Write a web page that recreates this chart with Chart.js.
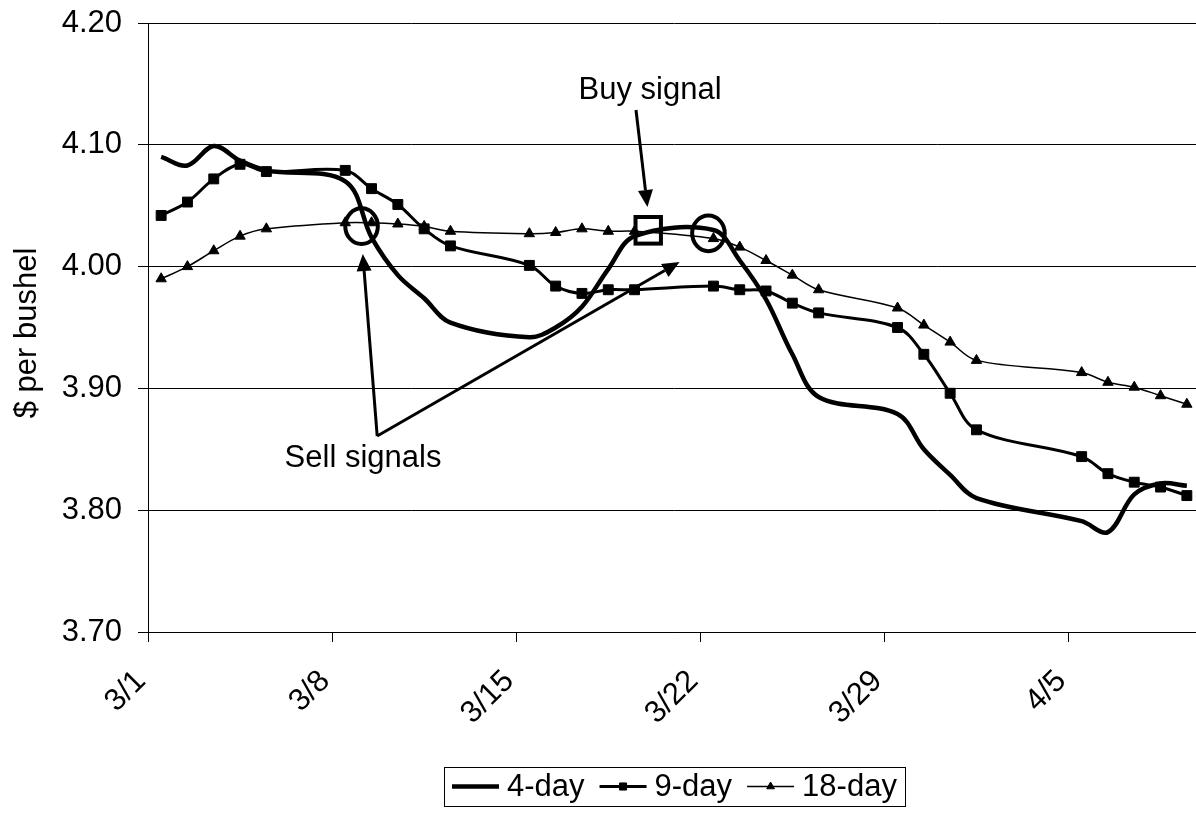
<!DOCTYPE html>
<html>
<head>
<meta charset="utf-8">
<title>Moving averages</title>
<script src="https://cdn.jsdelivr.net/npm/chart.js@4.4.1/dist/chart.umd.min.js"></script>
<style>
  html, body { margin: 0; padding: 0; overflow: hidden; background: #fff; }
  #wrap { width: 1210px; height: 813px; }
</style>
</head>
<body>
<div id="wrap"><canvas id="chart" width="1210" height="813"></canvas></div>
<script>
// Trading days (no weekends, no 4/2 holiday)
const tradingDays = [
  '3/1','3/2','3/3','3/4','3/5',
  '3/8','3/9','3/10','3/11','3/12',
  '3/15','3/16','3/17','3/18','3/19',
  '3/22','3/23','3/24','3/25','3/26',
  '3/29','3/30','3/31','4/1',
  '4/5','4/6','4/7','4/8','4/9'
];

// Moving averages, $ per bushel
const avg4 = [
  4.090, 4.083, 4.099, 4.087, 4.079,
  4.070, 4.024, 3.993, 3.974, 3.954,
  3.942, 3.950, 3.967, 3.998, 4.025,
  4.030, 4.005, 3.973, 3.928, 3.893,
  3.879, 3.850, 3.829, 3.810,
  3.791, 3.782, 3.813, 3.822, 3.820
];
const avg9 = [
  4.042, 4.053, 4.072, 4.084, 4.078,
  4.079, 4.064, 4.051, 4.031, 4.017,
  4.001, 3.984, 3.978, 3.981, 3.981,
  3.984, 3.981, 3.980, 3.970, 3.962,
  3.950, 3.928, 3.896, 3.866,
  3.844, 3.830, 3.823, 3.819, 3.812
];
const avg18 = [
  3.990, 4.000, 4.013, 4.025, 4.031,
  4.036, 4.036, 4.035, 4.033, 4.029,
  4.027, 4.028, 4.031, 4.029, 4.029,
  4.023, 4.016, 4.005, 3.993, 3.981,
  3.966, 3.952, 3.938, 3.923,
  3.913, 3.905, 3.901, 3.894, 3.887
];

const seriesNames = ['4-day', '9-day', '18-day'];
const xTickLabels = ['3/1', '3/8', '3/15', '3/22', '3/29', '4/5'];
const yTickValues = [3.70, 3.80, 3.90, 4.00, 4.10, 4.20];
const yAxisTitle = '$ per bushel';

// Days since 3/1 (March has 31 days)
function dayOfSeries(label) {
  const [m, d] = label.split('/').map(Number);
  return (m === 3 ? 0 : 31) + d - 1;
}
// each trading day is plotted in the middle of its day slot
function toPoints(values) {
  return tradingDays.map((day, i) => ({ x: dayOfSeries(day) + 0.5, y: values[i] }));
}

// Callouts, in chart units (x: days since 3/1, y: $ per bushel)
const sellCircles = [{ x: 8.12, y: 4.0332 }, { x: 21.31, y: 4.0273 }];
const buyBox = { x: 19.02, y: 4.0298 };
const buyArrow = { from: { x: 18.555, y: 4.1286 }, to: { x: 18.99, y: 4.0489 } };
const buyText = { text: 'Buy signal', x: 19.09, y: 4.1376 };
const sellArrows = [
  { from: { x: 8.715, y: 3.8609 }, to: { x: 8.167, y: 4.0103 } },
  { from: { x: 8.715, y: 3.8609 }, to: { x: 20.21, y: 4.0038 } }
];
const sellText = { text: 'Sell signals', x: 8.175, y: 3.8357 };

const FONT_FAMILY = '"Liberation Sans", Arial, Helvetica, sans-serif';
const FONT_SIZE = 31;
Chart.defaults.font.family = FONT_FAMILY;
Chart.defaults.font.size = FONT_SIZE;
Chart.defaults.color = '#000';

function drawArrow(ctx, x0, y0, x1, y1) {
  const headLen = 17, headW = 15;
  const a = Math.atan2(y1 - y0, x1 - x0);
  const bx = x1 - headLen * Math.cos(a), by = y1 - headLen * Math.sin(a);
  ctx.lineWidth = 3;
  ctx.beginPath();
  ctx.moveTo(x0, y0);
  ctx.lineTo(bx, by);
  ctx.stroke();
  ctx.beginPath();
  ctx.moveTo(x1, y1);
  ctx.lineTo(bx + headW / 2 * Math.sin(a), by - headW / 2 * Math.cos(a));
  ctx.lineTo(bx - headW / 2 * Math.sin(a), by + headW / 2 * Math.cos(a));
  ctx.closePath();
  ctx.fill();
}

const calloutPlugin = {
  id: 'signalCallouts',
  afterDatasetsDraw(chart) {
    const { ctx, scales: { x, y } } = chart;
    const px = v => x.getPixelForValue(v);
    const py = v => y.getPixelForValue(v);
    ctx.save();
    ctx.strokeStyle = '#000';
    ctx.fillStyle = '#000';

    ctx.lineWidth = 4;
    sellCircles.forEach(c => {
      ctx.beginPath();
      ctx.ellipse(px(c.x), py(c.y), 16.3, 17.8, 0, 0, Math.PI * 2);
      ctx.stroke();
    });
    ctx.strokeRect(px(buyBox.x) - 12.7, py(buyBox.y) - 13.3, 25.4, 26.6);

    drawArrow(ctx, px(buyArrow.from.x), py(buyArrow.from.y), px(buyArrow.to.x), py(buyArrow.to.y));
    sellArrows.forEach(a => drawArrow(ctx, px(a.from.x), py(a.from.y), px(a.to.x), py(a.to.y)));

    ctx.font = FONT_SIZE + 'px ' + FONT_FAMILY;
    ctx.textAlign = 'center';
    ctx.textBaseline = 'alphabetic';
    ctx.fillText(buyText.text, px(buyText.x), py(buyText.y));
    ctx.fillText(sellText.text, px(sellText.x), py(sellText.y));
    ctx.restore();
  }
};

// Vertical axis title, a little below the middle of the plot
const axisTitle = {
  id: 'axisTitle',
  afterDraw(chart) {
    const { ctx, chartArea } = chart;
    ctx.save();
    ctx.font = FONT_SIZE + 'px ' + FONT_FAMILY;
    ctx.fillStyle = '#000';
    ctx.translate(27.6, (chartArea.top + chartArea.bottom) / 2 + 5.5);
    ctx.rotate(-Math.PI / 2);
    ctx.textAlign = 'center';
    ctx.textBaseline = 'middle';
    ctx.fillText(yAxisTitle, 0, 0);
    ctx.restore();
  }
};

// Boxed legend below the axis: line sample with marker, then name
const boxedLegend = {
  id: 'boxedLegend',
  afterDraw(chart) {
    const { ctx, chartArea } = chart;
    ctx.save();
    ctx.font = FONT_SIZE + 'px ' + FONT_FAMILY;
    const symW = 47, gapText = 8, gapItem = 15, pad = 8;
    const items = chart.data.datasets.map(ds => ({ ds, w: ctx.measureText(ds.label).width }));
    const total = pad * 2 + items.reduce((s, it) => s + symW + gapText + it.w, 0) + gapItem * (items.length - 1);
    const cx = (chartArea.left + chartArea.right) / 2;
    const left = Math.round(cx - total / 2);
    const top = 767, h = 39, mid = top + h / 2;
    ctx.strokeStyle = '#000';
    ctx.fillStyle = '#000';
    ctx.lineWidth = 1;
    ctx.strokeRect(left + 0.5, top + 0.5, Math.round(total), h);
    let xpos = left + pad;
    items.forEach(it => {
      const ds = it.ds;
      ctx.lineWidth = ds.borderWidth;
      ctx.beginPath();
      ctx.moveTo(xpos, mid);
      ctx.lineTo(xpos + symW, mid);
      ctx.stroke();
      if (ds.pointRadius > 0) {
        ctx.lineWidth = 1;
        Chart.helpers.drawPoint(ctx, {
          pointStyle: ds.pointStyle, rotation: 0,
          radius: ds.pointStyle === 'rect' ? 5 : 4.5, borderWidth: 1
        }, xpos + symW / 2, mid);
      }
      ctx.textAlign = 'left';
      ctx.textBaseline = 'middle';
      ctx.fillText(ds.label, xpos + symW + gapText, mid + 1);
      xpos += symW + gapText + it.w + gapItem;
    });
    ctx.restore();
  }
};

new Chart(document.getElementById('chart'), {
  type: 'line',
  data: {
    datasets: [
      {
        label: seriesNames[0], data: toPoints(avg4),
        borderColor: '#000', borderWidth: 4.5, tension: 0.35,
        pointRadius: 0, fill: false
      },
      {
        label: seriesNames[1], data: toPoints(avg9),
        borderColor: '#000', borderWidth: 3, tension: 0.35,
        pointStyle: 'rect', pointRadius: 7, pointBackgroundColor: '#000',
        pointBorderColor: '#000', pointBorderWidth: 1, fill: false
      },
      {
        label: seriesNames[2], data: toPoints(avg18),
        borderColor: '#000', borderWidth: 1.5, tension: 0.35,
        pointStyle: 'triangle', pointRadius: 6, pointBackgroundColor: '#000',
        pointBorderColor: '#000', pointBorderWidth: 1, fill: false
      }
    ]
  },
  options: {
    responsive: false,
    animation: false,
    devicePixelRatio: 1,
    layout: { padding: { top: 23, right: 10, left: 0, bottom: 0 } },
    plugins: { legend: { display: false }, tooltip: { enabled: false } },
    scales: {
      x: {
        type: 'linear',
        min: 0,
        max: 40,
        afterBuildTicks: scale => { scale.ticks = xTickLabels.map(l => ({ value: dayOfSeries(l) })); },
        afterFit: scale => {
          scale.height = 181;
          scale.paddingLeft = 0;
          scale.paddingRight = 0;
        },
        grid: { display: true, drawOnChartArea: false, drawTicks: true, tickLength: 10, color: '#000', lineWidth: 1 },
        border: { display: true, color: '#000', width: 1 },
        ticks: {
          autoSkip: false,
          minRotation: 45,
          maxRotation: 45,
          padding: 21,
          labelOffset: -7,
          color: '#000',
          callback: v => {
            const l = xTickLabels.find(t => dayOfSeries(t) === v);
            return l === undefined ? '' : l;
          }
        }
      },
      y: {
        min: 3.7,
        max: 4.2,
        afterBuildTicks: scale => { scale.ticks = yTickValues.map(v => ({ value: v })); },
        afterFit: scale => {
          scale.width = 148;
          scale.paddingTop = 0;
          scale.paddingBottom = 0;
        },
        grid: { color: '#000', lineWidth: 1, drawTicks: true, tickLength: 10 },
        border: { display: true, color: '#000', width: 1 },
        ticks: { padding: 16, color: '#000', callback: v => Number(v).toFixed(2) },
        title: { display: false }
      }
    }
  },
  plugins: [calloutPlugin, axisTitle, boxedLegend]
});
</script>
</body>
</html>
